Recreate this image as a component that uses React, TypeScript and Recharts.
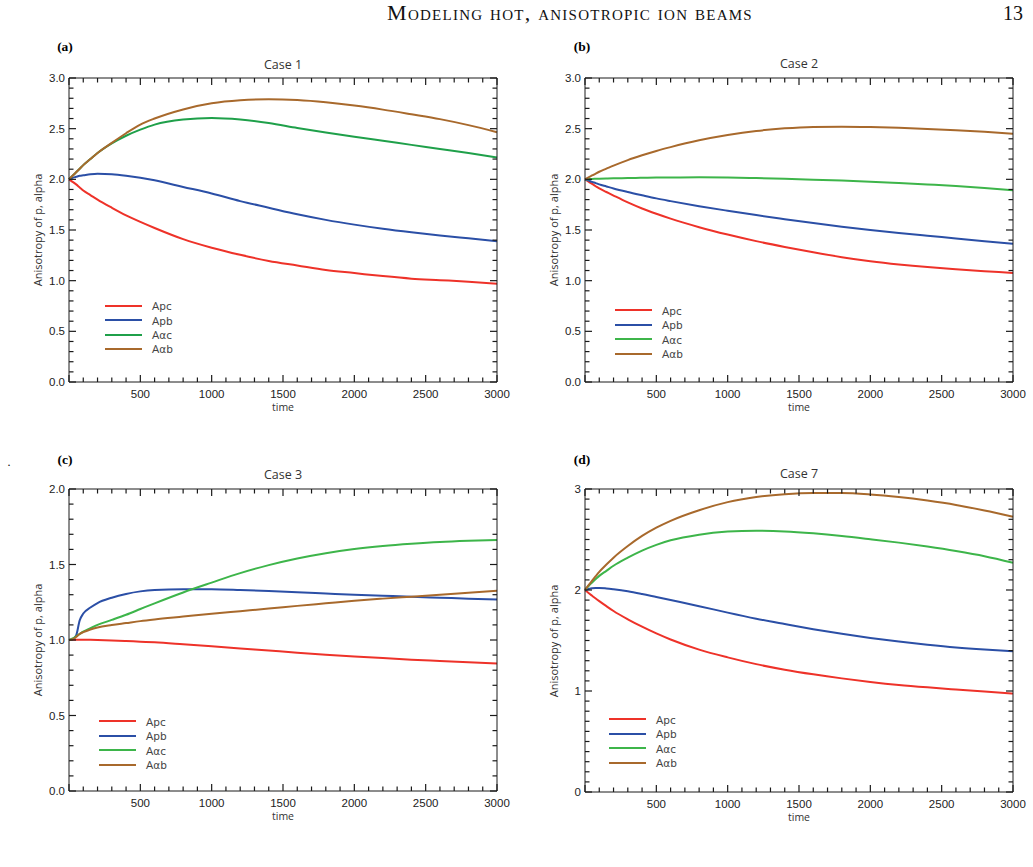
import { LineChart, Line, XAxis, YAxis, Legend } from 'recharts'

// sampling times shared by every run
const time = [0, 25, 50, 75, 100, 150, 200, 300, 400, 500, 600, 800, 1000, 1200, 1400, 1600, 1800, 2000, 2200, 2400, 2600, 2800, 3000]

// Case 1
const case1Apc = [2.0, 1.975, 1.95, 1.92, 1.89, 1.845, 1.8, 1.72, 1.645, 1.58, 1.52, 1.41, 1.325, 1.255, 1.195, 1.15, 1.105, 1.075, 1.045, 1.02, 1.005, 0.99, 0.97]
const case1Apb = [2.0, 2.015, 2.025, 2.035, 2.04, 2.05, 2.055, 2.05, 2.035, 2.015, 1.99, 1.925, 1.86, 1.785, 1.72, 1.655, 1.6, 1.553, 1.512, 1.477, 1.446, 1.418, 1.39]
const case1Aac = [2.0, 2.035, 2.07, 2.105, 2.14, 2.2, 2.26, 2.355, 2.43, 2.49, 2.54, 2.59, 2.605, 2.59, 2.555, 2.507, 2.462, 2.42, 2.38, 2.34, 2.3, 2.26, 2.215]
const case1Aab = [2.0, 2.035, 2.07, 2.105, 2.14, 2.2, 2.26, 2.36, 2.455, 2.54, 2.6, 2.69, 2.75, 2.78, 2.79, 2.782, 2.76, 2.728, 2.688, 2.642, 2.594, 2.535, 2.465]

// Case 2
const case2Apc = [2.0, 1.978, 1.955, 1.932, 1.91, 1.875, 1.84, 1.772, 1.712, 1.66, 1.612, 1.528, 1.455, 1.39, 1.333, 1.28, 1.232, 1.192, 1.16, 1.134, 1.113, 1.094, 1.075]
const case2Apb = [2.0, 1.988, 1.975, 1.963, 1.95, 1.93, 1.91, 1.875, 1.843, 1.812, 1.785, 1.735, 1.69, 1.647, 1.607, 1.568, 1.532, 1.5, 1.47, 1.443, 1.417, 1.39, 1.365]
const case2Aac = [2.0, 2.002, 2.004, 2.005, 2.006, 2.008, 2.01, 2.012, 2.015, 2.017, 2.018, 2.02, 2.018, 2.012, 2.005, 1.997, 1.988, 1.977, 1.964, 1.95, 1.935, 1.915, 1.892]
const case2Aab = [2.0, 2.02, 2.038, 2.057, 2.075, 2.105, 2.135, 2.19, 2.237, 2.28, 2.318, 2.385, 2.437, 2.477, 2.503, 2.517, 2.52, 2.516, 2.508, 2.497, 2.484, 2.469, 2.45]

// Case 3
const case3Apc = [1.0, 1.001, 1.002, 1.002, 1.002, 1.001, 1.0, 0.997, 0.993, 0.989, 0.985, 0.972, 0.958, 0.944, 0.93, 0.916, 0.903, 0.891, 0.88, 0.87, 0.861, 0.852, 0.844]
const case3Apb = [1.0, 1.005, 1.03, 1.13, 1.175, 1.215, 1.245, 1.28, 1.305, 1.322, 1.331, 1.336, 1.336, 1.331, 1.324, 1.316, 1.308, 1.3, 1.293, 1.286, 1.28, 1.274, 1.269]
const case3Aac = [1.0, 1.01, 1.025, 1.04, 1.055, 1.078, 1.1, 1.133, 1.167, 1.205, 1.243, 1.315, 1.38, 1.443, 1.496, 1.54, 1.575, 1.602, 1.622, 1.637, 1.649, 1.657, 1.663]
const case3Aab = [1.0, 1.005, 1.02, 1.04, 1.052, 1.07, 1.083, 1.099, 1.112, 1.125, 1.136, 1.155, 1.174, 1.191, 1.208, 1.226, 1.243, 1.26, 1.274, 1.287, 1.3, 1.313, 1.326]

// Case 7
const case7Apc = [2.0, 1.97, 1.943, 1.916, 1.89, 1.84, 1.792, 1.71, 1.637, 1.57, 1.51, 1.41, 1.333, 1.266, 1.211, 1.165, 1.125, 1.09, 1.06, 1.036, 1.015, 0.995, 0.974]
const case7Apb = [2.0, 2.01, 2.017, 2.02, 2.02, 2.015, 2.007, 1.987, 1.96, 1.93, 1.9, 1.84, 1.776, 1.716, 1.663, 1.612, 1.566, 1.525, 1.489, 1.458, 1.431, 1.41, 1.393]
const case7Aac = [2.0, 2.04, 2.075, 2.108, 2.14, 2.19, 2.24, 2.32, 2.39, 2.447, 2.492, 2.548, 2.578, 2.587, 2.58, 2.561, 2.535, 2.503, 2.469, 2.43, 2.386, 2.335, 2.27]
const case7Aab = [2.0, 2.048, 2.093, 2.137, 2.18, 2.252, 2.32, 2.435, 2.535, 2.617, 2.685, 2.79, 2.87, 2.92, 2.948, 2.96, 2.96, 2.946, 2.92, 2.885, 2.842, 2.787, 2.726]

const seriesKeys = ['pc', 'pb', 'ac', 'ab']
const seriesNames = ['Apc', 'Apb', 'Aαc', 'Aαb']
const seriesColors = ['#EE3229', '#2B4FA6', '#3DB54A', '#A8692C']

const xMajor = [0, 500, 1000, 1500, 2000, 2500, 3000]
const xMinorStep = 100
const yMinorStep = 0.1

const AXIS = '#1a1a1a'
const TICK_FONT = '"Liberation Sans", Arial, sans-serif'
const TEXT_FONT = '"Open Sans", "Liberation Sans", sans-serif'

function buildRows(values: number[][]) {
  return time.map((t, i) => {
    const row: Record<string, number> = { t }
    seriesKeys.forEach((k, j) => { row[k] = values[j][i] })
    return row
  })
}

function steps(max: number, step: number) {
  const n = Math.round(max / step)
  return Array.from({ length: n + 1 }, (_, i) => +(i * step).toFixed(3))
}

const isMajor = (v: number, majors: number[]) => majors.some((m) => Math.abs(m - v) < 1e-6)

// IDL-style inward ticks; labels only on the bottom/left majors
function makeTick(side: 'bottom' | 'top' | 'left' | 'right', majors: number[], fmt?: (v: number) => string, skipZero = false) {
  return (props: any) => {
    const x = Number(props.x)
    const y = Number(props.y)
    const v = Number(props.payload.value)
    const major = isMajor(v, majors)
    const len = major ? 7 : 4.5
    let d
    if (side === 'bottom') d = `M${x},${y}L${x},${y - len}`
    else if (side === 'top') d = `M${x},${y}L${x},${y + len}`
    else if (side === 'left') d = `M${x},${y}L${x + len},${y}`
    else d = `M${x},${y}L${x - len},${y}`
    let label = null
    if (fmt && major && !(skipZero && v === 0)) {
      label = side === 'bottom'
        ? <text x={x} y={y + 16} textAnchor="middle" fontSize={11.5} fontFamily={TICK_FONT} fill="#222">{fmt(v)}</text>
        : <text x={x - 4} y={y + 4} textAnchor="end" fontSize={11.5} fontFamily={TICK_FONT} fill="#222">{fmt(v)}</text>
    }
    return <g><path d={d} stroke={AXIS} strokeWidth={1.2} fill="none" />{label}</g>
  }
}

function LegendBox({ payload, lineWidth }: any) {
  const items = [...(payload || [])].sort(
    (a: any, b: any) => seriesNames.indexOf(a.value) - seriesNames.indexOf(b.value))
  return (
    <div style={{ fontFamily: TEXT_FONT, fontSize: 11.5, color: '#444' }}>
      {items.map((p: any) => (
        <div key={p.value} style={{ display: 'flex', alignItems: 'center', height: 14.4 }}>
          <svg width={lineWidth} height={4} style={{ display: 'block' }}>
            <line x1={0} y1={2} x2={lineWidth} y2={2} stroke={p.color} strokeWidth={2} />
          </svg>
          <span style={{ marginLeft: 10, lineHeight: 1 }}>
            A<span style={{ fontSize: 10.5, fontFamily: '"DejaVu Sans", sans-serif' }}>{String(p.value).slice(1)}</span>
          </span>
        </div>
      ))}
    </div>
  )
}

function Label({ x, y, children, style }: any) {
  return (
    <div style={{ position: 'absolute', left: x, top: y, transform: 'translate(-50%, -50%)', whiteSpace: 'nowrap', lineHeight: 1, ...style }}>
      {children}
    </div>
  )
}

type PanelProps = {
  tag: string
  title: string
  plot: { x: number; y: number; w: number; h: number }
  titleY: number
  tagX: number
  tagY: number
  yMax: number
  yMajorStep: number
  yDigits: number
  legend: { x: number; y: number; w: number }
  values: number[][]
  colors: string[]
}

function Panel({ tag, title, plot, titleY, tagX, tagY, yMax, yMajorStep, yDigits, legend, values, colors }: PanelProps) {
  // outer margins around the plot box; each axis takes 1px of it
  const ml = 60, mt = 20, mr = 20, mb = 40
  const rows = buildRows(values)
  const xTicks = steps(3000, xMinorStep)
  const yTicks = steps(yMax, yMinorStep)
  const yMajor = steps(yMax, yMajorStep)
  const xFmt = (v: number) => String(v)
  const yFmt = (v: number) => v.toFixed(yDigits)
  const cx = plot.x + plot.w / 2
  return (
    <>
      <Label x={tagX} y={tagY} style={{ fontFamily: '"Liberation Serif", serif', fontWeight: 'bold', fontSize: 13.5 }}>{tag}</Label>
      <Label x={cx} y={titleY} style={{ fontFamily: TEXT_FONT, fontSize: 12.5, color: '#333' }}>{title}</Label>
      <Label x={plot.x - 32} y={plot.y + plot.h / 2} style={{ fontFamily: TEXT_FONT, fontSize: 11, color: '#333', transform: 'translate(-50%, -50%) rotate(-90deg)' }}>
        Anisotropy of p, alpha
      </Label>
      <Label x={cx} y={plot.y + plot.h + 25} style={{ fontFamily: TEXT_FONT, fontSize: 10.5, color: '#333' }}>time</Label>
      <div style={{ position: 'absolute', left: plot.x - ml, top: plot.y - mt }}>
        <LineChart width={plot.w + ml + mr} height={plot.h + mt + mb} data={rows}
          margin={{ top: mt - 1, right: mr - 1, bottom: mb - 1, left: ml - 1 }} style={{ overflow: 'visible' }}>
          <XAxis xAxisId="b" dataKey="t" type="number" domain={[0, 3000]} ticks={xTicks} interval={0} height={1}
            tickSize={0} tickMargin={0} tickLine={false} axisLine={{ stroke: AXIS }} tick={makeTick('bottom', xMajor, xFmt, true)} />
          <XAxis xAxisId="t" orientation="top" dataKey="t" type="number" domain={[0, 3000]} ticks={xTicks} interval={0} height={1}
            tickSize={0} tickMargin={0} tickLine={false} axisLine={{ stroke: AXIS }} tick={makeTick('top', xMajor)} />
          <YAxis yAxisId="l" type="number" domain={[0, yMax]} ticks={yTicks} interval={0} width={1} allowDataOverflow
            tickSize={0} tickMargin={0} tickLine={false} axisLine={{ stroke: AXIS }} tick={makeTick('left', yMajor, yFmt)} />
          <YAxis yAxisId="r" orientation="right" type="number" domain={[0, yMax]} ticks={yTicks} interval={0} width={1} allowDataOverflow
            tickSize={0} tickMargin={0} tickLine={false} axisLine={{ stroke: AXIS }} tick={makeTick('right', yMajor)} />
          {seriesKeys.map((k, j) => (
            <Line key={k} xAxisId="b" yAxisId="l" type="monotone" dataKey={k} name={seriesNames[j]}
              stroke={colors[j]} strokeWidth={2} dot={false} isAnimationActive={false} />
          ))}
          <Legend layout="horizontal" verticalAlign="middle"
            wrapperStyle={{ left: legend.x - plot.x + ml, top: legend.y - plot.y + mt - 7.2, width: 'auto' }}
            content={(p: any) => <LegendBox payload={p.payload} lineWidth={legend.w} />} />
        </LineChart>
      </div>
    </>
  )
}

export default function App() {
  const case1Colors = ['#EE3229', '#2B4FA6', '#1FA04A', '#A8692C']
  return (
    <div style={{ position: 'absolute', left: 0, top: 0, width: 1033, height: 867, background: '#fff', overflow: 'hidden' }}>
      <Label x={570} y={13} style={{ fontFamily: '"Liberation Serif", serif', fontSize: 22, letterSpacing: 1.25, fontVariant: 'small-caps', color: '#111' }}>
        Modeling hot, anisotropic ion beams
      </Label>
      <Label x={1013} y={13} style={{ fontFamily: '"Liberation Serif", serif', fontSize: 20, color: '#111' }}>13</Label>
      <Label x={9} y={462} style={{ fontFamily: '"Liberation Serif", serif', fontSize: 12 }}>.</Label>

      <Panel tag="(a)" title="Case 1" plot={{ x: 69, y: 78, w: 428, h: 304 }} titleY={65} tagX={65} tagY={47}
        yMax={3} yMajorStep={0.5} yDigits={1} legend={{ x: 105, y: 306, w: 37 }}
        values={[case1Apc, case1Apb, case1Aac, case1Aab]} colors={case1Colors} />
      <Panel tag="(b)" title="Case 2" plot={{ x: 585, y: 78, w: 428, h: 304 }} titleY={64} tagX={582} tagY={47}
        yMax={3} yMajorStep={0.5} yDigits={1} legend={{ x: 615, y: 310.5, w: 37 }}
        values={[case2Apc, case2Apb, case2Aac, case2Aab]} colors={seriesColors} />
      <Panel tag="(c)" title="Case 3" plot={{ x: 69, y: 489, w: 428, h: 302 }} titleY={475} tagX={65} tagY={460}
        yMax={2} yMajorStep={0.5} yDigits={1} legend={{ x: 99, y: 721.5, w: 37 }}
        values={[case3Apc, case3Apb, case3Aac, case3Aab]} colors={seriesColors} />
      <Panel tag="(d)" title="Case 7" plot={{ x: 585, y: 489, w: 428, h: 303 }} titleY={474} tagX={582} tagY={460}
        yMax={3} yMajorStep={1} yDigits={0} legend={{ x: 609, y: 719.5, w: 37 }}
        values={[case7Apc, case7Apb, case7Aac, case7Aab]} colors={seriesColors} />
    </div>
  )
}
